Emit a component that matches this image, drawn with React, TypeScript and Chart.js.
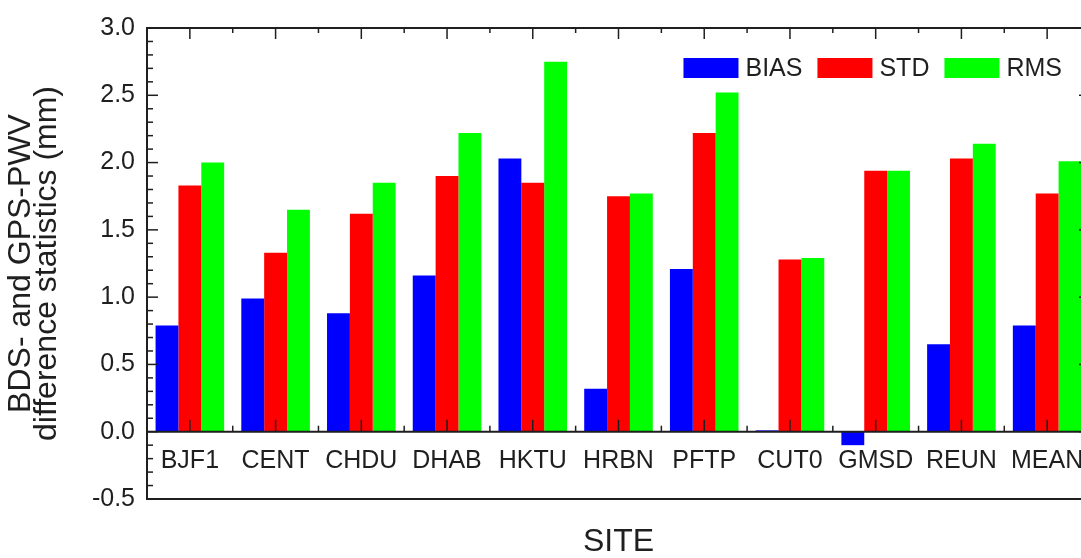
import { useEffect, useRef } from 'react';
import { Chart, registerables } from 'chart.js';

Chart.register(...registerables);

// Stations on the horizontal axis
const sites = ['BJF1', 'CENT', 'CHDU', 'DHAB', 'HKTU', 'HRBN', 'PFTP', 'CUT0', 'GMSD', 'REUN', 'MEAN'];

// Difference statistics between BDS- and GPS-derived PWV (mm)
const bias = [0.79, 0.99, 0.88, 1.16, 2.03, 0.32, 1.21, 0.01, -0.1, 0.65, 0.79];
const std = [1.83, 1.33, 1.62, 1.9, 1.85, 1.75, 2.22, 1.28, 1.94, 2.03, 1.77];
const rms = [2.0, 1.65, 1.85, 2.22, 2.75, 1.77, 2.52, 1.29, 1.94, 2.14, 2.01];

const seriesNames = ['BIAS', 'STD', 'RMS'];
const seriesColors = ['#0000ff', '#ff0000', '#00ff00'];

const yMin = -0.5;
const yMax = 3.0;
const yStep = 0.5;
const yMinorStep = 0.1;

const FONT = 'Arial, "Liberation Sans", sans-serif';
const INK = '#1f1f1f';

// Box frame, zero line and inward tick marks on all four sides
const framePlugin = {
  id: 'frameTicks',
  afterDatasetsDraw(chart: any) {
    const { ctx, chartArea } = chart;
    const { left, right, top, bottom } = chartArea;
    const ys = chart.scales.y;
    const xs = chart.scales.x;
    const seg = (x1: number, y1: number, x2: number, y2: number) => {
      ctx.beginPath();
      ctx.moveTo(x1, y1);
      ctx.lineTo(x2, y2);
      ctx.stroke();
    };
    ctx.save();
    ctx.strokeStyle = INK;
    ctx.lineWidth = 2;
    ctx.strokeRect(left, top, right - left, bottom - top);
    const y0 = ys.getPixelForValue(0);
    seg(left, y0, right, y0);

    ctx.lineWidth = 1.5;
    const nMinor = Math.round((yMax - yMin) / yMinorStep);
    const perMajor = Math.round(yStep / yMinorStep);
    for (let i = 0; i <= nMinor; i++) {
      const v = yMin + i * yMinorStep;
      const py = ys.getPixelForValue(v);
      const len = i % perMajor === 0 ? 11 : 6;
      seg(left, py, left + len, py);
      seg(right, py, right - len, py);
    }
    for (let i = 0; i < sites.length; i++) {
      const cx = xs.getPixelForValue(i);
      seg(cx, top, cx, top + 11);
      seg(cx, y0, cx, y0 - 12);
      if (i > 0) {
        const bx = (xs.getPixelForValue(i - 1) + cx) / 2;
        seg(bx, top, bx, top + 5);
        seg(bx, y0, bx, y0 - 6);
      }
    }
    ctx.restore();
  },
};

// Legend row in the upper right corner of the plot
const legendPlugin = {
  id: 'cornerLegend',
  afterDraw(chart: any) {
    const { ctx, chartArea } = chart;
    const datasets = chart.data.datasets;
    const boxW = 55;
    const boxH = 20;
    const gap = 7;
    const itemGap = 15;
    ctx.save();
    ctx.font = `25px ${FONT}`;
    const widths = datasets.map((d: any) => boxW + gap + ctx.measureText(d.label).width);
    const total = widths.reduce((a: number, b: number) => a + b, 0) + itemGap * (datasets.length - 1);
    let x = chartArea.right - 28 - total;
    const boxTop = chartArea.top + 30;
    ctx.textBaseline = 'middle';
    ctx.textAlign = 'left';
    datasets.forEach((d: any, i: number) => {
      ctx.fillStyle = d.backgroundColor;
      ctx.fillRect(x, boxTop, boxW, boxH);
      ctx.fillStyle = INK;
      ctx.fillText(d.label, x + boxW + gap, boxTop + boxH / 2 + 1);
      x += widths[i] + itemGap;
    });
    ctx.restore();
  },
};

export default function App() {
  const canvasRef = useRef<HTMLCanvasElement | null>(null);

  useEffect(() => {
    if (!canvasRef.current) return;
    const values = [bias, std, rms];
    const chart = new Chart(canvasRef.current, {
      type: 'bar',
      data: {
        labels: sites,
        datasets: seriesNames.map((name, i) => ({
          label: name,
          data: values[i],
          backgroundColor: seriesColors[i],
          borderWidth: 0,
          categoryPercentage: 0.8,
          barPercentage: 1.0,
        })),
      },
      options: {
        responsive: false,
        animation: false,
        devicePixelRatio: 1,
        layout: { padding: { left: 0, top: 28, right: 20, bottom: 0 } },
        plugins: {
          legend: { display: false },
          tooltip: { enabled: false },
        },
        scales: {
          x: {
            type: 'category',
            position: 'bottom',
            offset: true,
            grid: { display: false, drawTicks: false },
            border: { display: false },
            ticks: { display: false },
            title: {
              display: true,
              text: 'SITE',
              color: INK,
              font: { family: FONT, size: 32, lineHeight: 1 },
              padding: { top: 0, bottom: 0 },
            },
            afterFit: (scale: any) => {
              scale.height = 59;
            },
          },
          x2: {
            type: 'category',
            axis: 'x',
            labels: sites,
            position: { y: 0 },
            offset: true,
            grid: { display: false, drawTicks: false },
            border: { display: false },
            ticks: {
              color: INK,
              font: { family: FONT, size: 25 },
              padding: 14,
              autoSkip: false,
              maxRotation: 0,
              minRotation: 0,
            },
          },
          y: {
            type: 'linear',
            min: yMin,
            max: yMax,
            grid: { display: false, drawTicks: false },
            border: { display: false },
            ticks: {
              stepSize: yStep,
              color: INK,
              padding: 12,
              font: { family: FONT, size: 25 },
              callback: (v: any) => Number(v).toFixed(1),
            },
            title: {
              display: true,
              text: ['BDS- and GPS-PWV', 'difference statistics (mm)'],
              color: INK,
              font: { family: FONT, size: 32, lineHeight: 0.82 },
              padding: { top: 8, bottom: 0 },
            },
            afterFit: (scale: any) => {
              scale.width = 147;
            },
          },
        },
      } as any,
      plugins: [framePlugin, legendPlugin],
    });
    return () => chart.destroy();
  }, []);

  return (
    <div
      style={{
        position: 'fixed',
        left: 0,
        top: 0,
        width: 1081,
        height: 558,
        overflow: 'hidden',
        background: '#ffffff',
      }}
    >
      <canvas ref={canvasRef} width={1110} height={558} style={{ display: 'block' }} />
    </div>
  );
}
